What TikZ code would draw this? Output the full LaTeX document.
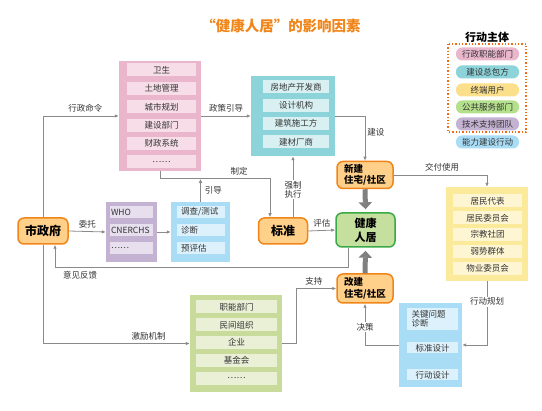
\documentclass[tikz,border=0pt]{standalone}
\usepackage{fontspec}
\setmainfont{Noto Sans CJK SC}
\usetikzlibrary{arrows.meta}
\definecolor{pinkbox}{HTML}{E9B6CB}
\definecolor{pinkitem}{HTML}{F6DDE8}
\definecolor{tealbox}{HTML}{8DD3DA}
\definecolor{tealitem}{HTML}{D8F0F2}
\definecolor{purplebox}{HTML}{C3B2D2}
\definecolor{purpleitem}{HTML}{E7DFEE}
\definecolor{bluebox}{HTML}{A9DDF6}
\definecolor{blueitem}{HTML}{DCF1FB}
\definecolor{yellowbox}{HTML}{FBEA9A}
\definecolor{yellowitem}{HTML}{FEF6D3}
\definecolor{greenbox}{HTML}{C8DB9B}
\definecolor{greenitem}{HTML}{E9F0D6}
\definecolor{keyfill}{HTML}{FFD08A}
\definecolor{keyline}{HTML}{F08519}
\definecolor{goalfill}{HTML}{C4DF9E}
\definecolor{goalline}{HTML}{3BAA46}
\definecolor{linkgray}{HTML}{8A8A8A}
\definecolor{inkgray}{HTML}{333333}

\tikzset{
  groupbox/.style={rectangle, inner sep=0pt},
  itembox/.style={rectangle, inner sep=0pt, minimum height=13pt, font=\fontsize{8.5}{9.5}\selectfont, text=inkgray},
  keynode/.style={rectangle, rounded corners=6pt, draw=keyline, line width=1.5pt, fill=keyfill,
    font=\fontsize{12}{14}\selectfont\bfseries, text=black, inner sep=0pt},
  link/.style={draw=linkgray, line width=0.8pt, -{Latex[length=4pt,width=3.5pt]}},
  bigarrow/.style={draw=gray, line width=5pt, -{Triangle[length=7pt,width=13pt]}},
  lbl/.style={font=\fontsize{8.5}{9.5}\selectfont, text=inkgray, inner sep=1pt},
  pill/.style={rectangle, rounded corners=6pt, minimum width=63pt, minimum height=13pt, inner sep=0pt,
    font=\fontsize{8.5}{9.5}\selectfont, text=inkgray}
}

\begin{document}
\begin{tikzpicture}[x=1pt, y=-1pt]
  \useasboundingbox (0,0) rectangle (542,411);

  \node[font=\fontsize{14.5}{16}\selectfont\bfseries, text=keyline] (title) at (281,26) {“健康人居”的影响因素};

  \node[groupbox, fill=pinkbox, minimum width=82pt, minimum height=110pt] (admin) at (160,116) {};
  \foreach \t [count=\i] in {卫生,土地管理,城市规划,建设部门,财政系统,……}
    \node[itembox, fill=pinkitem, minimum width=69pt] (admin\i) at (161.5,{70+18.4*(\i-1)}) {\t};

  \node[groupbox, fill=tealbox, minimum width=84pt, minimum height=80pt] (builder) at (293,116) {};
  \foreach \t [count=\i] in {房地产开发商,设计机构,建筑施工方,建材厂商}
    \node[itembox, fill=tealitem, minimum width=66pt] (builder\i) at (296,{87+18.3*(\i-1)}) {\t};

  \node[groupbox, fill=purplebox, minimum width=51pt, minimum height=60pt] (expert) at (131.5,232) {};
  \foreach \t [count=\i] in {WHO,CNERCHS,……}
    \node[itembox, fill=purpleitem, minimum width=43pt, minimum height=12pt, text width=41pt, align=left] (expert\i) at (131.5,{212+18*(\i-1)}) {\t};

  \node[groupbox, fill=bluebox, minimum width=59pt, minimum height=60pt] (survey) at (200.5,232) {};
  \foreach \t [count=\i] in {调查/测试,诊断,预评估}
    \node[itembox, fill=blueitem, minimum width=48pt, minimum height=12pt, text width=40pt, align=left] (survey\i) at (201,{212+18*(\i-1)}) {\t};

  \node[groupbox, fill=yellowbox, minimum width=82pt, minimum height=94pt] (users) at (487,234) {};
  \foreach \t [count=\i] in {居民代表,居民委员会,宗教社团,弱势群体,物业委员会}
    \node[itembox, fill=yellowitem, minimum width=69pt] (users\i) at (487.5,{201+16.8*(\i-1)}) {\t};

  \node[groupbox, fill=greenbox, minimum width=92pt, minimum height=97pt] (public) at (236,343.5) {};
  \foreach \t [count=\i] in {职能部门,民间组织,企业,基金会,……}
    \node[itembox, fill=greenitem, minimum width=81pt] (public\i) at (236.5,{307+17.8*(\i-1)}) {\t};

  \node[groupbox, fill=bluebox, minimum width=63pt, minimum height=84pt] (action) at (430.5,345) {};
  \node[itembox, fill=blueitem, minimum width=51pt, minimum height=22pt, text width=42pt, align=left] (action1) at (432.5,319) {关键问题\\诊断};
  \node[itembox, fill=blueitem, minimum width=51pt, minimum height=11pt] (action2) at (432.5,348) {标准设计};
  \node[itembox, fill=blueitem, minimum width=51pt, minimum height=11pt] (action3) at (432.5,375) {行动设计};

  \node[keynode, minimum width=50pt, minimum height=26pt] (gov) at (43,231) {市政府};
  \node[keynode, minimum width=49pt, minimum height=26pt] (std) at (283,231) {标准};
  \node[keynode, minimum width=56pt, minimum height=27pt, font=\fontsize{9.5}{11.5}\selectfont\bfseries, align=left] (newb) at (365,175) {新建\\住宅/社区};
  \node[keynode, minimum width=56pt, minimum height=29pt, font=\fontsize{9.5}{11.5}\selectfont\bfseries, align=left] (reno) at (365,288.5) {改建\\住宅/社区};
  \node[keynode, draw=goalline, fill=goalfill, minimum width=59pt, minimum height=34pt, align=center,
    font=\fontsize{11}{14}\selectfont\bfseries] (goal) at (365.5,230) {健康\\人居};

  \draw[link] (gov.north) |- (admin.west) node[lbl, pos=0.78, above=2pt] {行政命令};
  \draw[link] (admin.east) -- (builder.west) node[lbl, midway, above=2pt] {政策引导};
  \draw[link] (builder.east) -| (newb.north) node[lbl, pos=0.68, right=1pt] {建设};
  \draw[link] (admin.south) -- ++(0,7) -| ([xshift=-13pt]std.north) node[lbl, pos=0.36, above=2pt] {制定};
  \draw[link] (survey.north) -- ++(0,-23) node[lbl, midway, right=3pt] {引导};
  \draw[link] ([xshift=10pt]std.north) -- ([xshift=10pt]std.north |- builder.south)
    node[lbl, pos=0.45, fill=white, align=center, font=\fontsize{8.5}{9}\selectfont] {强制\\执行};
  \draw[link] (gov.east) -- (expert.west) node[lbl, midway, above=2pt] {委托};
  \draw[link] (expert.east) -- (survey.west);
  \draw[link] (std.east) -- (goal.west) node[lbl, midway, above=2pt] {评估};
  \draw[link] ([xshift=-17pt]goal.south) -- ++(0,20) -| ([xshift=12pt]gov.south) node[lbl, pos=0.457, below=2pt] {意见反馈};
  \draw[link] (newb.east) -| (users.north) node[lbl, pos=0.26, above=2pt] {交付使用};
  \draw[link] (gov.south) |- (public.west) node[lbl, pos=0.86, above=2pt] {激励机制};
  \draw[link] (public.east) -- ++(14,0) |- (reno.west) node[lbl, pos=0.72, above=2pt] {支持};
  \draw[link] (users.south) |- (action.east) node[lbl, pos=0.16, fill=white] {行动规划};
  \draw[link] (action.west) -| (reno.south) node[lbl, pos=0.72, fill=white] {决策};

  \draw[bigarrow] (newb.south) -- ([yshift=3pt]goal.north);
  \draw[bigarrow] (reno.north) -- ([yshift=-3pt]goal.south);

  \node[font=\fontsize{11}{13}\selectfont\bfseries, text=black] (legendtitle) at (487,37) {行动主体};
  \draw[draw=keyline!80!red, line width=1.3pt, dotted] (448,44) rectangle (526,132);
  \node[pill, fill=pinkbox] (legend1) at (487.5,54) {行政职能部门};
  \node[pill, fill=tealbox] (legend2) at (487.5,72) {建设总包方};
  \node[pill, fill=yellowbox!90!orange] (legend3) at (487.5,90) {终端用户};
  \node[pill, fill=greenbox!90!green] (legend4) at (487.5,107) {公共服务部门};
  \node[pill, fill=purplebox] (legend5) at (487.5,124) {技术支持团队};
  \node[pill, fill=bluebox] (legend6) at (487.5,142) {能力建设行动};
\end{tikzpicture}
\end{document}
